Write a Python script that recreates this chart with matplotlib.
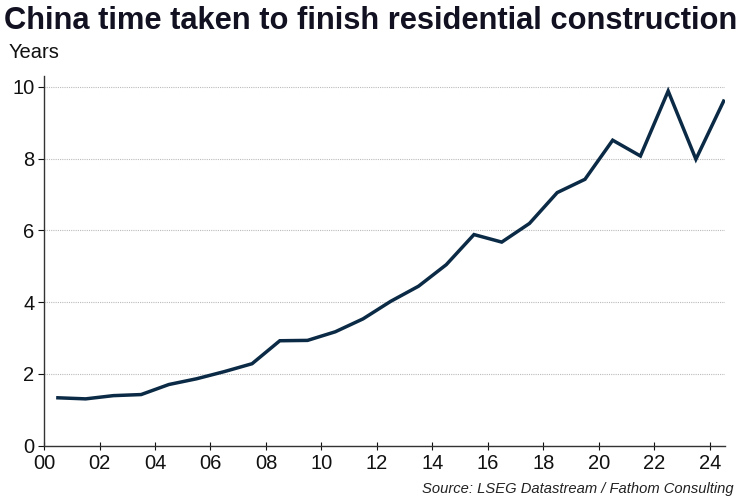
import numpy as np
import matplotlib
matplotlib.use("Agg")
import matplotlib.pyplot as plt

# mid-year points, 2000.5 .. 2024.5
years = np.arange(2000.5, 2025.0, 1.0)
build_time = [1.33, 1.30, 1.39, 1.42, 1.70, 1.86, 2.06, 2.28, 2.92, 2.93,
              3.17, 3.53, 4.02, 4.44, 5.04, 5.88, 5.67, 6.19, 7.05, 7.42,
              8.51, 8.07, 9.88, 7.98, 9.60]

tick_years = np.arange(2000, 2025, 2)
tick_labels = ["%02d" % (y - 2000) for y in tick_years]

plt.rcParams['font.family'] = ['Liberation Sans', 'DejaVu Sans']

fig = plt.figure(figsize=(7.5, 5), dpi=100)
ax = fig.add_axes([0.0587, 0.109, 0.908, 0.739])

ax.plot(years, build_time, color="#0b2a45", lw=2.5, solid_joinstyle="miter")

ax.set_xlim(2000, 2024.55)
ax.set_ylim(0, 10.3)
ax.set_xticks(tick_years)
ax.set_xticklabels(tick_labels)
ax.set_yticks([0, 2, 4, 6, 8, 10])

ax.grid(axis="y", color="#bbbbbb", linestyle=(0, (1, 1)), linewidth=0.8)
ax.set_axisbelow(True)
for s in ["top", "right"]:
    ax.spines[s].set_visible(False)
for s in ["left", "bottom"]:
    ax.spines[s].set_color("#333333")
    ax.spines[s].set_linewidth(1.0)

ax.tick_params(axis="x", direction="inout", length=6, labelsize=14.5, pad=3, colors="#111111")
ax.tick_params(axis="y", direction="out", length=4, labelsize=14.5, pad=3, colors="#111111")

fig.text(0.006, 0.958, "China time taken to finish residential construction",
         fontsize=22.2, fontweight="bold", color="#111122", va="center", ha="left")
fig.text(0.011, 0.895, "Years", fontsize=14.5, color="#111111", va="center", ha="left")
fig.text(0.978, 0.022, "Source: LSEG Datastream / Fathom Consulting",
         fontsize=10.6, style="italic", color="#222222", va="center", ha="right")

fig.savefig("out.png", dpi=100)
